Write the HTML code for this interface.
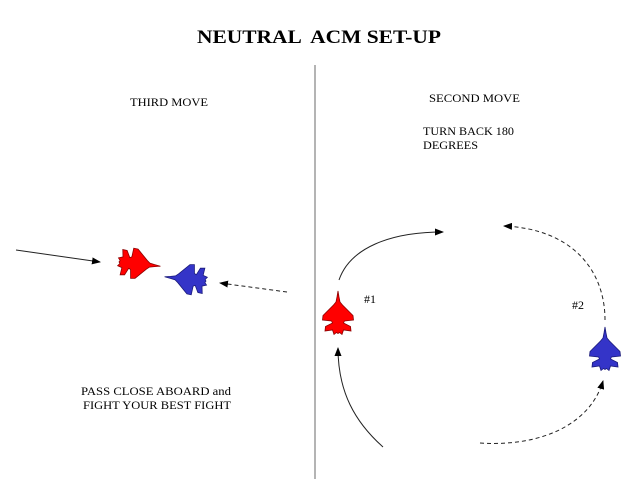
<!DOCTYPE html>
<html><head><meta charset="utf-8"><style>
html,body{margin:0;padding:0;background:#fff;}
svg{display:block;}
text{font-family:"Liberation Serif",serif;fill:#000;}
</style></head><body>
<svg width="640" height="479" viewBox="0 0 640 479" xmlns="http://www.w3.org/2000/svg">
<defs>
<marker id="ah" markerWidth="9" markerHeight="7" refX="8" refY="3.5" orient="auto" markerUnits="userSpaceOnUse">
<path d="M0,0 L9,3.5 L0,7 z" fill="#000"/>
</marker>
<path id="jet" d="M0,-22 L1,-16 L2,-11 L4.5,-8 L15,2.5 L15.5,7 L6.5,8 L5.5,10 L12.5,13.5 L13,18 L5.5,17 L4,21.5 L1.5,19.5 L0,20.5 L-1.5,19.5 L-4,21.5 L-5.5,17 L-13,18 L-12.5,13.5 L-5.5,10 L-6.5,8 L-15.5,7 L-15,2.5 L-4.5,-8 L-2,-11 L-1,-16 Z"/>
</defs>

<text x="197" y="43" font-size="19" font-weight="bold" textLength="244" lengthAdjust="spacingAndGlyphs" xml:space="preserve">NEUTRAL  ACM SET-UP</text>

<line x1="315" y1="65" x2="315" y2="479" stroke="#b4b4b4" stroke-width="2"/>

<text x="130" y="106" font-size="12" textLength="78" lengthAdjust="spacingAndGlyphs">THIRD MOVE</text>
<text x="429" y="102" font-size="12" textLength="91" lengthAdjust="spacingAndGlyphs">SECOND MOVE</text>
<text x="423" y="135" font-size="12" textLength="91" lengthAdjust="spacingAndGlyphs">TURN BACK 180</text>
<text x="423" y="149" font-size="12" textLength="55" lengthAdjust="spacingAndGlyphs">DEGREES</text>
<text x="81" y="395" font-size="12" textLength="150" lengthAdjust="spacingAndGlyphs">PASS CLOSE ABOARD and</text>
<text x="83" y="409" font-size="12" textLength="148" lengthAdjust="spacingAndGlyphs">FIGHT YOUR BEST FIGHT</text>
<text x="364" y="303" font-size="12">#1</text>
<text x="572" y="309" font-size="12">#2</text>

<!-- left arrows -->
<line x1="16" y1="250" x2="100" y2="262" stroke="#222" stroke-width="1" marker-end="url(#ah)"/>
<line x1="287" y1="292" x2="220" y2="283" stroke="#222" stroke-width="1" stroke-dasharray="4,3" marker-end="url(#ah)"/>

<!-- left jets -->
<use href="#jet" transform="translate(139,264) rotate(96) scale(0.98)" fill="#ff0000" stroke="#8a0000" stroke-width="0.8"/>
<use href="#jet" transform="translate(186,279) rotate(-84) scale(0.98)" fill="#3434c8" stroke="#1a1a7a" stroke-width="0.8"/>

<!-- right side arcs -->
<path d="M339,280 C350,248 390,232 443,232" fill="none" stroke="#222" stroke-width="1" marker-end="url(#ah)"/>
<path d="M383,447 C355,422 338,392 338,348" fill="none" stroke="#222" stroke-width="1" marker-end="url(#ah)"/>
<path d="M605,320 C605,270 572,229 504,226" fill="none" stroke="#222" stroke-width="1" stroke-dasharray="4,3" marker-end="url(#ah)"/>
<path d="M480,443 C540,447 590,425 603,381" fill="none" stroke="#222" stroke-width="1" stroke-dasharray="4,3" marker-end="url(#ah)"/>

<!-- right jets -->
<use href="#jet" transform="translate(338,313)" fill="#ff0000" stroke="#8a0000" stroke-width="0.8"/>
<use href="#jet" transform="translate(605,349)" fill="#3434c8" stroke="#1a1a7a" stroke-width="0.8"/>
</svg>
</body></html>
